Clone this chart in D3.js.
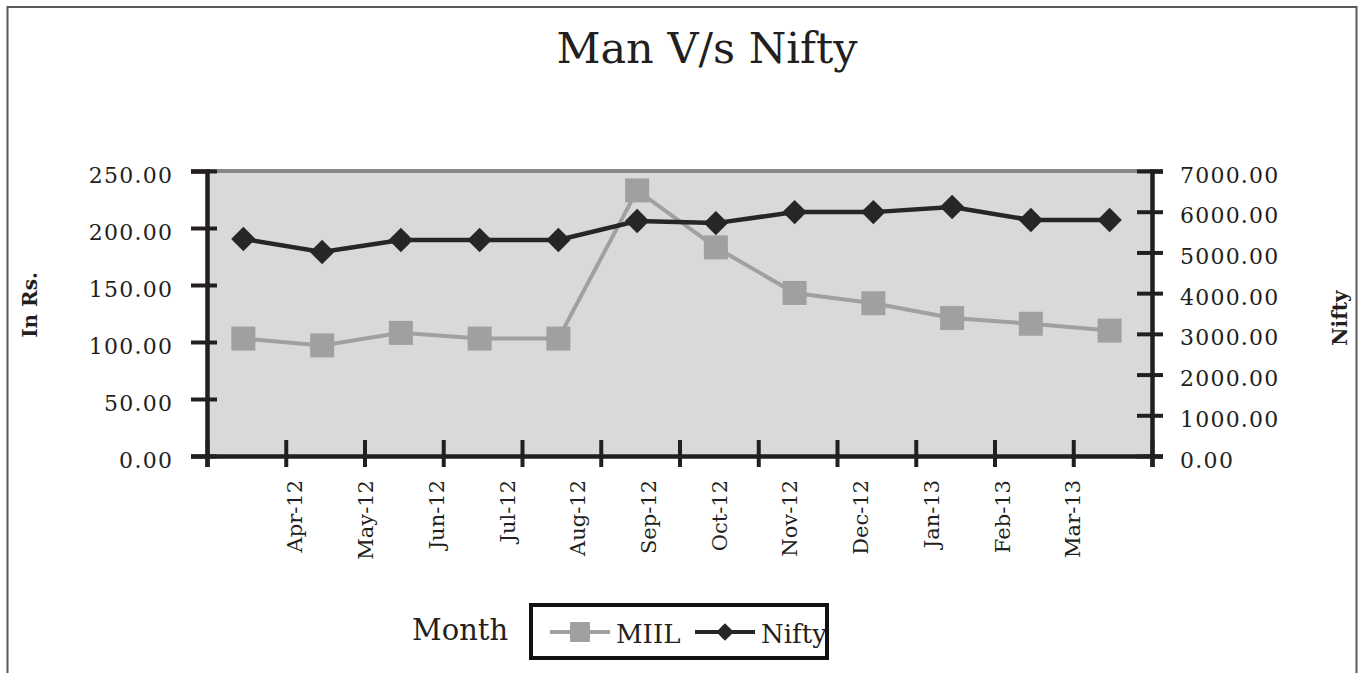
<!DOCTYPE html>
<html lang="en">
<head>
  <meta charset="UTF-8">
  <script type="text/javascript" src="https://cdn.jsdelivr.net/npm/d3@7"></script>
  <title>Man V/s Nifty</title>
  <style>
    body { margin: 0; background: #fff; }
    svg { display: block; font-family: "DejaVu Serif", serif; }
    .ylab text { font-size: 22px; fill: #231f20; font-family: "DejaVu Serif", serif; }
    .xlab text { font-size: 21px; fill: #231f20; }
  </style>
</head>
<body>
<div id="chart"></div>
<script>
  // data
  var months = ["Apr-12", "May-12", "Jun-12", "Jul-12", "Aug-12", "Sep-12",
                "Oct-12", "Nov-12", "Dec-12", "Jan-13", "Feb-13", "Mar-13"];
  var miil  = [103, 97, 108, 103, 103, 233, 183, 143, 134, 121, 116, 110];
  var nifty = [5330, 5010, 5305, 5305, 5305, 5770, 5720, 5990, 5990, 6115, 5795, 5795];
  var leftTicks  = [0, 50, 100, 150, 200, 250];
  var rightTicks = [0, 1000, 2000, 3000, 4000, 5000, 6000, 7000];

  var W = 1361, H = 673;
  var pLeft = 207, pRight = 1152, pTop = 171, pBottom = 456;
  var axisCol = "#231f20";

  var svg = d3.select("#chart").append("svg")
    .attr("width", W).attr("height", H);

  // outer chart border
  svg.append("rect")
    .attr("x", 7.5).attr("y", 7).attr("width", 1349).attr("height", 700)
    .attr("fill", "none").attr("stroke", "#595959").attr("stroke-width", 2);

  svg.append("text")
    .attr("x", 707).attr("y", 63)
    .attr("text-anchor", "middle")
    .style("font-size", "43px").style("fill", "#231f20")
    .text("Man V/s Nifty");

  var x = d3.scaleBand().domain(months).range([pLeft, pRight]);
  var xLab = d3.scalePoint().domain(months).range([295, 1073]);
  var xTick = d3.scaleLinear().domain([0, months.length]).range([pLeft, pRight]);
  var yL = d3.scaleLinear().domain([0, 250]).range([pBottom, pTop]);
  var yR = d3.scaleLinear().domain([0, 7000]).range([pBottom, pTop]);

  // plot area
  svg.append("rect")
    .attr("x", pLeft).attr("y", pTop)
    .attr("width", pRight - pLeft).attr("height", pBottom - pTop)
    .attr("fill", "#d9d9d9");
  svg.append("line")
    .attr("x1", pLeft).attr("x2", pRight).attr("y1", pTop).attr("y2", pTop)
    .attr("stroke", "#888").attr("stroke-width", 4);

  // left axis
  var gL = svg.append("g").attr("class", "ylab")
    .attr("transform", "translate(" + pLeft + ",0)")
    .call(d3.axisLeft(yL).tickValues(leftTicks).tickFormat(d3.format(".2f"))
      .tickSize(16).tickPadding(19));
  // right axis
  var gR = svg.append("g").attr("class", "ylab")
    .attr("transform", "translate(" + pRight + ",0)")
    .call(d3.axisRight(yR).tickValues(rightTicks).tickFormat(d3.format(".2f"))
      .tickSize(11).tickPadding(17));
  // bottom axis (ticks only, labels come from xLab)
  var gB = svg.append("g")
    .attr("transform", "translate(0," + pBottom + ")")
    .call(d3.axisBottom(xTick).tickValues(d3.range(months.length + 1))
      .tickFormat("").tickSize(11));

  [gL, gR, gB].forEach(function(g) {
    g.select(".domain").attr("stroke", axisCol).attr("stroke-width", 4.5);
    g.selectAll(".tick line").attr("stroke", axisCol).attr("stroke-width", 4);
  });
  gL.selectAll(".tick line").attr("x2", 10).attr("x1", -16);
  gR.selectAll(".tick line").attr("x1", -15);
  gB.selectAll(".tick line").attr("y1", -16);
  // stretch the tick labels a little, the original face is wider than DejaVu
  gL.selectAll(".tick text").attr("dy", 11).attr("x", -35)
    .attr("textLength", function() { return this.getComputedTextLength() * 1.08; })
    .attr("lengthAdjust", "spacing");
  gR.selectAll(".tick text").attr("dy", 11).attr("x", 28)
    .attr("textLength", function() { return this.getComputedTextLength() * 1.08; })
    .attr("lengthAdjust", "spacing");

  var xl = svg.append("g").attr("class", "xlab");
  xl.selectAll("text").data(months).enter().append("text")
    .attr("transform", function(d) { return "translate(" + xLab(d) + ",480) rotate(-90)"; })
    .attr("dy", "0.35em")
    .attr("text-anchor", "end")
    .text(function(d) { return d; });

  // axis titles
  svg.append("text")
    .attr("transform", "translate(30,305) rotate(-90)")
    .attr("dy", "0.35em").attr("text-anchor", "middle")
    .style("font-size", "20px").style("font-weight", "bold").style("fill", "#231f20")
    .text("In Rs.");
  svg.append("text")
    .attr("transform", "translate(1340,318) rotate(-90)")
    .attr("dy", "0.35em").attr("text-anchor", "middle")
    .style("font-size", "20px").style("font-weight", "bold").style("fill", "#231f20")
    .text("Nifty");

  var cx = function(d, i) { return x(months[i]) + x.bandwidth() / 2 - 3; };

  // MIIL series
  svg.append("path").datum(miil)
    .attr("fill", "none").attr("stroke", "#a0a0a0").attr("stroke-width", 4)
    .attr("d", d3.line().x(cx).y(function(d) { return yL(d); }));
  svg.selectAll(".sq").data(miil).enter().append("rect")
    .attr("class", "sq")
    .attr("x", function(d, i) { return cx(d, i) - 12; })
    .attr("y", function(d) { return yL(d) - 12; })
    .attr("width", 24).attr("height", 24)
    .attr("fill", "#a0a0a0");

  // Nifty series
  svg.append("path").datum(nifty)
    .attr("fill", "none").attr("stroke", "#262626").attr("stroke-width", 4.5)
    .attr("d", d3.line().x(cx).y(function(d) { return yR(d); }));
  var diamond = d3.symbol().type(d3.symbolDiamond2).size(380);
  svg.selectAll(".dm").data(nifty).enter().append("path")
    .attr("class", "dm")
    .attr("transform", function(d, i) { return "translate(" + cx(d, i) + "," + yR(d) + ")"; })
    .attr("d", diamond)
    .attr("fill", "#262626");

  // x axis title and legend
  svg.append("text")
    .attr("x", 412).attr("y", 640)
    .style("font-size", "29px").style("fill", "#231f20")
    .text("Month");

  var leg = svg.append("g");
  leg.append("rect")
    .attr("x", 531).attr("y", 605).attr("width", 296).attr("height", 53)
    .attr("fill", "#fff").attr("stroke", "#111").attr("stroke-width", 4);
  var items = [
    { name: "MIIL", col: "#a0a0a0", x0: 550, mark: "sq" },
    { name: "Nifty", col: "#262626", x0: 695, mark: "dm" }
  ];
  items.forEach(function(it) {
    leg.append("line")
      .attr("x1", it.x0).attr("x2", it.x0 + 60).attr("y1", 632).attr("y2", 632)
      .attr("stroke", it.col).attr("stroke-width", 4);
    if (it.mark === "sq") {
      leg.append("rect").attr("x", it.x0 + 20).attr("y", 622)
        .attr("width", 20).attr("height", 20).attr("fill", it.col);
    } else {
      leg.append("path")
        .attr("transform", "translate(" + (it.x0 + 30) + ",632)")
        .attr("d", d3.symbol().type(d3.symbolDiamond2).size(200))
        .attr("fill", it.col);
    }
    leg.append("text")
      .attr("x", it.x0 + 66).attr("y", 643)
      .style("font-size", "26px").style("fill", "#231f20")
      .text(it.name);
  });
</script>
</body>
</html>
